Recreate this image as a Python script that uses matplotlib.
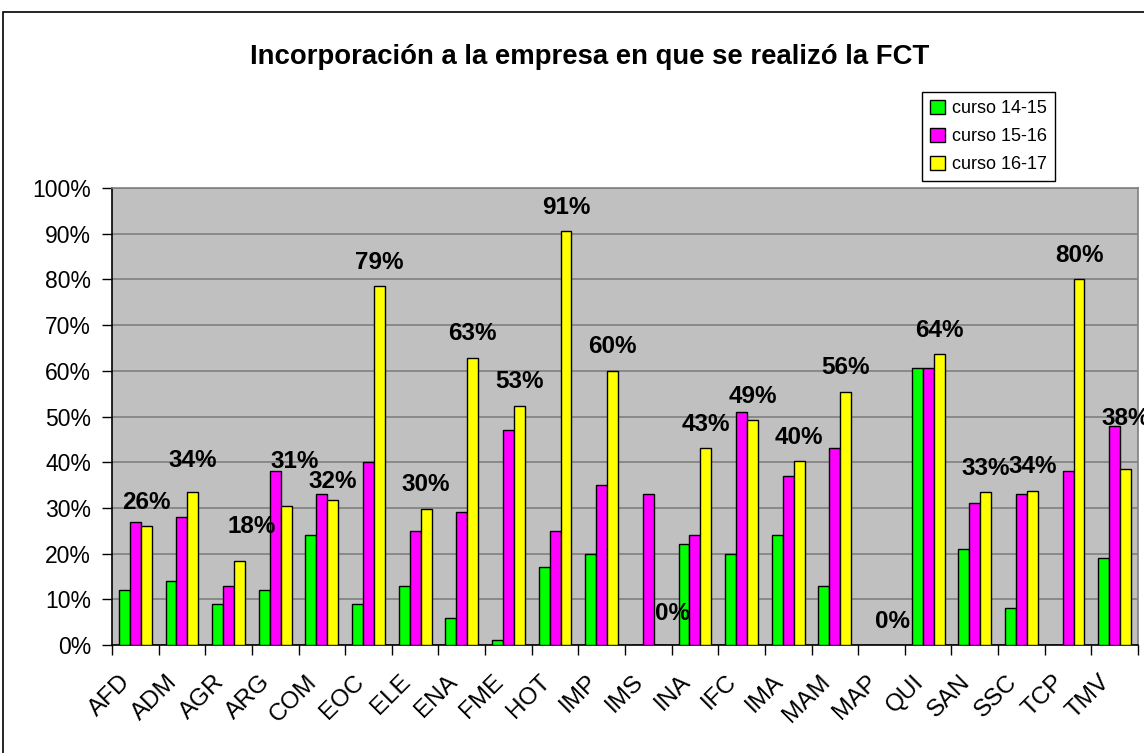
import matplotlib
matplotlib.use('Agg')
import matplotlib.pyplot as plt
from matplotlib.patches import Rectangle
from matplotlib.ticker import FixedLocator, PercentFormatter
from matplotlib.transforms import ScaledTranslation
import numpy as np

plt.rcParams['font.family'] = ['Liberation Sans', 'DejaVu Sans']

# Data (percent)
families = ['AFD', 'ADM', 'AGR', 'ARG', 'COM', 'EOC', 'ELE', 'ENA', 'FME', 'HOT', 'IMP',
            'IMS', 'INA', 'IFC', 'IMA', 'MAM', 'MAP', 'QUI', 'SAN', 'SSC', 'TCP', 'TMV']
curso_14_15 = [12, 14, 9, 12, 24, 9, 13, 6, 1, 17, 20,
               0, 22, 20, 24, 13, 0, 60.7, 21, 8, 0, 19]
curso_15_16 = [27, 28, 13, 38, 33, 40, 25, 29, 47, 25, 35,
               33, 24, 51, 37, 43, 0, 60.7, 31, 33, 38, 48]
curso_16_17 = [26, 33.5, 18.4, 30.5, 31.7, 78.5, 29.8, 62.9, 52.4, 90.5, 60,
               0, 43, 49.2, 40.2, 55.4, 0, 63.6, 33.4, 33.7, 80, 38.5]
# labels printed on the 16-17 bars
labels_16_17 = [26, 34, 18, 31, 32, 79, 30, 63, 53, 91, 60,
                0, 43, 49, 40, 56, 0, 64, 33, 34, 80, 38]
series_names = ['curso 14-15', 'curso 15-16', 'curso 16-17']
series_colors = ['#00ff00', '#ff00ff', '#ffff00']

# manual nudges of the data labels (pixels), as in the original sheet
label_dx = [0, 0, 12, 8, 0, 0, 0, 0, 0, 0, 0, 13, 0, 0, 0, 0, 0, 0, 0, 0, 0, 0]
label_dy = [0, 7, 10, 20, -5, 0, 0, 0, 0, 0, 0, 7, 0, 0, 0, 0, 0, 0, 0, 0, 0, 27]

W, H = 1144, 753
fig = plt.figure(figsize=(W / 100, H / 100), dpi=100)

# Chart area border
fig.patches.append(Rectangle((3 / W, -0.05), 1.1, 1 - 12 / H + 0.05, transform=fig.transFigure,
                             fill=False, edgecolor='black', linewidth=1.2))

ax = fig.add_axes([112 / W, 1 - 645 / H, (1138 - 112) / W, (645 - 188) / H])
ax.set_facecolor('#c0c0c0')

x = np.arange(len(families))
bw = 0.235
all_series = [curso_14_15, curso_15_16, curso_16_17]
for i, (vals, name, col) in enumerate(zip(all_series, series_names, series_colors)):
    ax.bar(x + (i - 1) * bw, vals, bw, color=col, edgecolor='black', linewidth=1,
           label=name, zorder=3)

# Labels on the 16-17 bars
for xi, v, lab, dx, dy in zip(x, curso_16_17, labels_16_17, label_dx, label_dy):
    ax.annotate('{}%'.format(lab), (xi + bw, v), xytext=(dx, 24 + dy),
                textcoords='offset pixels', ha='center', va='center',
                fontsize=17.5, fontweight='bold', zorder=5, annotation_clip=False)

ax.set_xlim(-0.5, len(families) - 0.5)
ax.set_ylim(0, 100)
ax.yaxis.set_major_locator(FixedLocator(np.arange(0, 101, 10)))
ax.yaxis.set_major_formatter(PercentFormatter(decimals=0))
ax.grid(axis='y', color='#808080', linewidth=1.2, zorder=0)

# ticks between categories, labels at the centers
ax.xaxis.set_major_locator(FixedLocator(np.arange(-0.5, len(families), 1)))
ax.xaxis.set_minor_locator(FixedLocator(x))
ax.set_xticklabels([''] * (len(families) + 1))
ax.set_xticks(x, families, minor=True)
ax.tick_params(axis='x', which='major', length=7, width=1, direction='out')
ax.tick_params(axis='x', which='minor', length=0, pad=24)
shift = ScaledTranslation(-8 / 100, 0, fig.dpi_scale_trans)
for lab in ax.get_xticklabels(minor=True):
    lab.set_rotation(45)
    lab.set_rotation_mode('anchor')
    lab.set_ha('right')
    lab.set_va('center')
    lab.set_fontsize(17.5)
    lab.set_transform(lab.get_transform() + shift)
ax.tick_params(axis='y', length=7, width=1, labelsize=16.5, pad=8)

for side in ['top', 'right']:
    ax.spines[side].set_color('#808080')
    ax.spines[side].set_linewidth(1.2)
for side in ['left', 'bottom']:
    ax.spines[side].set_color('black')
    ax.spines[side].set_linewidth(1.2)

fig.text(590 / W, 1 - 57 / H, 'Incorporación a la empresa en que se realizó la FCT',
         ha='center', va='center', fontsize=19.8, fontweight='bold')

leg = fig.legend(loc='upper left', bbox_to_anchor=(922 / W, 1 - 92 / H),
                 bbox_transform=fig.transFigure, borderaxespad=0, fancybox=False,
                 edgecolor='black', framealpha=1, fontsize=13, handlelength=0.8,
                 handleheight=0.8, handletextpad=0.4, labelspacing=0.6, borderpad=0.45)
leg.get_frame().set_linewidth(1)

fig.savefig('out.png', dpi=100)
